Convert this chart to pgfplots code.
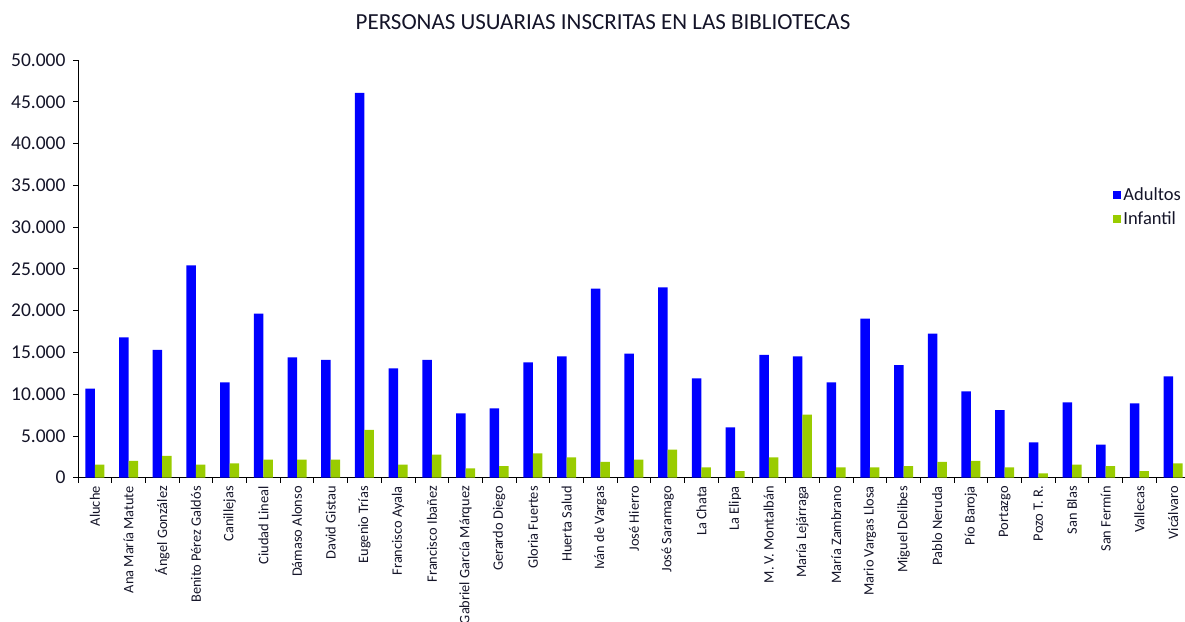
\documentclass[border=0pt]{standalone}
\usepackage{pgfplots}
\pgfplotsset{compat=1.18}
\usepackage{fontspec}
\setmainfont{Carlito}
\definecolor{cblue}{RGB}{0,0,255}
\definecolor{cgreen}{RGB}{153,204,0}
\definecolor{ctext}{RGB}{20,20,40}
\begin{document}
\begin{tikzpicture}[x=1pt,y=1pt]
\useasboundingbox (0,0) rectangle (1185,621);
\node[font=\fontsize{23}{25}\selectfont, text=ctext] at (603,599) {PERSONAS USUARIAS INSCRITAS EN LAS BIBLIOTECAS};
\begin{axis}[
  at={(78pt,143.3pt)}, anchor=south west,
  scale only axis, width=1112pt, height=417.7pt,
  xmin=-0.5, xmax=32.5, ymin=0, ymax=50000,
  axis x line*=bottom, axis y line*=left,
  axis line style={-, black, line width=0.8pt},
  ybar, bar width=9.5pt,
  xtick={0,...,32},
  xticklabels={Aluche,Ana María Matute,Ángel González,Benito Pérez Galdós,Canillejas,Ciudad Lineal,Dámaso Alonso,David Gistau,Eugenio Trías,Francisco Ayala,Francisco Ibañez,Gabriel García Márquez,Gerardo Diego,Gloria Fuertes,Huerta Salud,Iván de Vargas,José Hierro,José Saramago,La Chata,La Elipa,M. V. Montalbán,María Lejárraga,María Zambrano,Mario Vargas Llosa,Miguel Delibes,Pablo Neruda,Pío Baroja,Portazgo,Pozo T. R.,San Blas,San Fermín,Vallecas,Vicálvaro},
  x tick label style={rotate=90, anchor=east, font=\fontsize{14.4}{16}\selectfont, text=ctext},
  major x tick style={draw=none},
  minor xtick={-0.5,0.5,...,32.5},
  minor x tick style={black, line width=0.8pt},
  minor tick length=5pt,
  tick align=outside,
  ytick={0,5000,...,50000},
  major y tick style={black, line width=0.8pt},
  major tick length=5pt,
  y tick label style={font=\fontsize{19.5}{21}\selectfont, text=ctext, xshift=-4pt},
  scaled y ticks=false,
  /pgf/number format/.cd, 1000 sep={.}, assume math mode=true,
  /pgfplots/.cd,
  legend style={at={(0.931,0.70)}, anchor=north west, draw=none, fill=none,
    font=\fontsize{18.5}{20}\selectfont, text=ctext, row sep=6pt, inner sep=0pt},
  legend cell align=left,
  legend image code/.code={\fill[#1] (0pt,-4pt) rectangle (8pt,4pt);},
]
\addplot[fill=cblue, draw=none, bar shift=-4.75pt] coordinates {
(0,10650) (1,16800) (2,15290) (3,25420) (4,11420) (5,19630) (6,14410) (7,14090) (8,46050) (9,13080)
(10,14090) (11,7700) (12,8300) (13,13810) (14,14530) (15,22630) (16,14850) (17,22790) (18,11900) (19,6030)
(20,14690) (21,14530) (22,11420) (23,19030) (24,13490) (25,17240) (26,10340) (27,8100) (28,4240) (29,9030)
(30,3950) (31,8900) (32,12140)};
\addplot[fill=cgreen, draw=none, bar shift=4.75pt] coordinates {
(0,1560) (1,2000) (2,2600) (3,1560) (4,1720) (5,2150) (6,2150) (7,2150) (8,5730) (9,1560)
(10,2750) (11,1120) (12,1400) (13,2920) (14,2440) (15,1880) (16,2150) (17,3350) (18,1240) (19,800)
(20,2440) (21,7540) (22,1240) (23,1240) (24,1400) (25,1880) (26,2000) (27,1240) (28,530) (29,1560)
(30,1400) (31,800) (32,1720)};
\legend{Adultos,Infantil}
\end{axis}
\end{tikzpicture}
\end{document}
